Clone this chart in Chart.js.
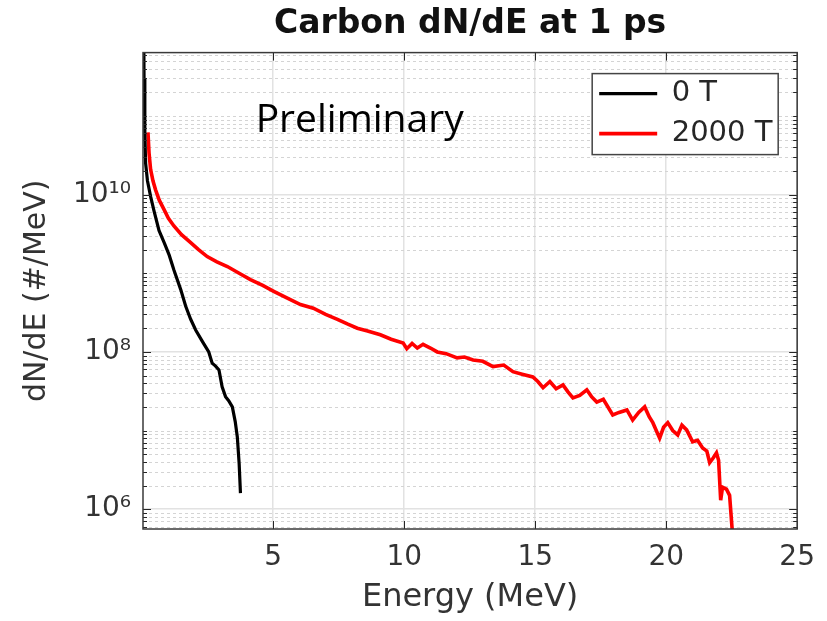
<!DOCTYPE html>
<html>
<head>
<meta charset="utf-8">
<script src="https://cdn.jsdelivr.net/npm/chart.js@4.4.1/dist/chart.umd.min.js"></script>
<style>
  html, body { margin: 0; padding: 0; background: #ffffff; }
  canvas { display: block; }
</style>
</head>
<body>
<canvas id="c" width="827" height="621"></canvas>
<script>
// ---------------- data ----------------
const chartTitle = 'Carbon dN/dE at 1 ps';
const xAxisTitle = 'Energy (MeV)';
const yAxisTitle = 'dN/dE (#/MeV)';
const seriesNames = ['0 T', '2000 T'];
const xTickValues = [5, 10, 15, 20, 25];
const xTickLabels = ['5', '10', '15', '20', '25'];
const yTickValues = [1e6, 1e8, 1e10];
const yTickLabels = ['10\u2076', '10\u2078', '10\u00B9\u2070'];
const xRange = [0.03, 25];
const yRange = [5.6e5, 6.4e11];

const energy0T = [0.05, 0.07, 0.10, 0.13, 0.20, 0.32, 0.45, 0.64, 0.85, 1.03, 1.21, 1.47, 1.66, 1.85,
  2.04, 2.30, 2.54, 2.67, 2.80, 2.93, 3.05, 3.18, 3.30, 3.44, 3.55, 3.63, 3.70, 3.75];
const dnde0T = [3e12, 3e11, 6e10, 2.5e10, 1.5e10, 9.5e9, 6.2e9, 3.5e9, 2.4e9, 1.7e9, 1.1e9, 6.2e8, 3.8e8, 2.6e8,
  1.9e8, 1.35e8, 1.0e8, 7.2e7, 6.6e7, 5.9e7, 3.6e7, 2.7e7, 2.4e7, 2.0e7, 1.3e7, 8.3e6, 3.8e6, 1.6e6];

const energy2000T = [0.22, 0.26, 0.32, 0.41, 0.51, 0.65, 0.83, 1.00, 1.21, 1.50, 1.85, 2.15, 2.48, 2.85,
  3.25, 3.70, 4.13, 4.60, 5.02, 5.50, 6.04, 6.53, 7.00, 7.45, 7.85, 8.21, 8.60, 9.09, 9.50, 9.96,
  10.10, 10.30, 10.50, 10.72, 11.00, 11.26, 11.60, 12.02, 12.30, 12.63, 13.00, 13.39, 13.80, 14.15,
  14.50, 14.91, 15.10, 15.30, 15.56, 15.80, 16.06, 16.25, 16.44, 16.70, 16.97, 17.15, 17.35, 17.60,
  17.96, 18.20, 18.50, 18.72, 18.95, 19.18, 19.35, 19.49, 19.75, 19.90, 20.06, 20.25, 20.44, 20.60,
  20.78, 21.01, 21.20, 21.39, 21.55, 21.66, 21.80, 21.92, 22.00, 22.08, 22.15, 22.30, 22.42, 22.55, 22.60];
const dnde2000T = [6.2e10, 3.4e10, 2.1e10, 1.5e10, 1.15e10, 8.5e9, 6.5e9, 5.0e9, 4.0e9, 3.1e9, 2.45e9, 2.0e9, 1.63e9, 1.4e9,
  1.22e9, 1.0e9, 8.3e8, 7.0e8, 5.9e8, 4.9e8, 4.0e8, 3.6e8, 3.0e8, 2.6e8, 2.25e8, 2.0e8, 1.85e8, 1.65e8, 1.45e8, 1.3e8,
  1.1e8, 1.28e8, 1.12e8, 1.25e8, 1.12e8, 1.0e8, 9.5e7, 8.4e7, 8.6e7, 7.9e7, 7.6e7, 6.5e7, 6.8e7, 5.6e7,
  5.2e7, 4.8e7, 4.2e7, 3.5e7, 4.2e7, 3.4e7, 3.8e7, 3.1e7, 2.6e7, 2.8e7, 3.3e7, 2.7e7, 2.3e7, 2.5e7,
  1.58e7, 1.7e7, 1.83e7, 1.36e7, 1.7e7, 2.0e7, 1.5e7, 1.26e7, 8.0e6, 1.1e7, 1.26e7, 1.0e7, 8.8e6, 1.17e7,
  1.02e7, 7.2e6, 7.5e6, 6.0e6, 5.5e6, 3.9e6, 4.5e6, 5.2e6, 4.2e6, 1.3e6, 1.9e6, 1.8e6, 1.5e6, 4e5, 2e5];

const annotationText = 'Preliminary';
const annotationAt = [8.3, 6.2e10];

// ---------------- styling ----------------
const FONT = '"DejaVu Sans", sans-serif';
const TEXT = '#333333';

const framePlugin = {
  id: 'matlabFrame',
  beforeLayout(chart) {
    const lg = chart.legend;
    if (lg && !lg._zPatched) {
      lg._layers = () => [{ z: 1, draw: (area) => lg.draw(area) }];
      lg._zPatched = true;
    }
  },
  afterLayout(chart) {
    const lg = chart.legend, ca = chart.chartArea;
    if (!lg) return;
    lg.left = ca.right - 209;
    lg.top = ca.top + 15.5;
    lg.width = 195; lg.height = 100;
    lg.right = lg.left + lg.width;
    lg.bottom = lg.top + lg.height;
  },
  beforeDatasetsDraw(chart) {
    const { ctx, chartArea: ca, scales: { y } } = chart;
    ctx.save();
    ctx.beginPath(); ctx.rect(ca.left, ca.top, ca.width, ca.height); ctx.clip();
    ctx.setLineDash([3, 3]);
    ctx.strokeStyle = '#d4d4d4';
    ctx.lineWidth = 1;
    const n0 = Math.floor(Math.log10(y.min)), n1 = Math.ceil(Math.log10(y.max));
    for (let n = n0; n <= n1; n++) {
      for (let k = 1; k <= 9; k++) {
        const v = k * Math.pow(10, n);
        if (v <= y.min || v >= y.max || yTickValues.includes(v)) continue;
        const py = Math.round(y.getPixelForValue(v)) + 0.5;
        ctx.beginPath(); ctx.moveTo(ca.left, py); ctx.lineTo(ca.right, py); ctx.stroke();
      }
    }
    ctx.restore();
  },
  afterDatasetsDraw(chart) {
    const { ctx, chartArea: ca, scales: { x, y } } = chart;
    ctx.save();
    ctx.setLineDash([]);
    ctx.strokeStyle = '#262626';
    ctx.lineWidth = 1;
    const n0 = Math.floor(Math.log10(y.min)), n1 = Math.ceil(Math.log10(y.max));
    for (let n = n0; n <= n1; n++) {
      for (let k = 1; k <= 9; k++) {
        const v = k * Math.pow(10, n);
        if (v <= y.min || v >= y.max) continue;
        const len = yTickValues.includes(v) ? 8 : 4;
        const py = Math.round(y.getPixelForValue(v)) + 0.5;
        ctx.beginPath();
        ctx.moveTo(ca.left, py); ctx.lineTo(ca.left + len, py);
        ctx.moveTo(ca.right, py); ctx.lineTo(ca.right - len, py);
        ctx.stroke();
      }
    }
    xTickValues.forEach(v => {
      const px = Math.round(x.getPixelForValue(v)) + 0.5;
      ctx.beginPath();
      ctx.moveTo(px, ca.bottom); ctx.lineTo(px, ca.bottom - 8);
      ctx.moveTo(px, ca.top); ctx.lineTo(px, ca.top + 8);
      ctx.stroke();
    });
    ctx.strokeStyle = '#3a3a3a';
    ctx.lineWidth = 1.5;
    ctx.strokeRect(ca.left, ca.top, ca.width, ca.height);
    const lg = chart.legend;
    if (lg) {
      const bx = lg.left + 4, by = lg.top + 5.5, bw = 186, bh = 81;
      ctx.fillStyle = '#ffffff';
      ctx.fillRect(bx, by, bw, bh);
      ctx.strokeStyle = '#444444';
      ctx.lineWidth = 1.5;
      ctx.strokeRect(bx, by, bw, bh);
    }
    ctx.restore();
  },
  afterDraw(chart) {
    const { ctx, scales: { x, y } } = chart;
    ctx.save();
    ctx.font = '39px "Open Sans", "Noto Sans", sans-serif';
    ctx.fillStyle = '#000000';
    ctx.textAlign = 'center';
    ctx.textBaseline = 'alphabetic';
    ctx.fillText(annotationText, x.getPixelForValue(annotationAt[0]), y.getPixelForValue(annotationAt[1]));
    ctx.restore();
  }
};

const toPoints = (xs, ys) => xs.map((e, i) => ({ x: e, y: ys[i] }));

new Chart(document.getElementById('c'), {
  type: 'line',
  data: {
    datasets: [
      {
        label: seriesNames[0],
        data: toPoints(energy0T, dnde0T),
        borderColor: '#000000',
        backgroundColor: '#000000',
        borderWidth: 3.2,
        pointRadius: 0,
        pointStyle: 'line',
        tension: 0,
        fill: false
      },
      {
        label: seriesNames[1],
        data: toPoints(energy2000T, dnde2000T),
        borderColor: '#ff0000',
        backgroundColor: '#ff0000',
        borderWidth: 3.6,
        pointRadius: 0,
        pointStyle: 'line',
        tension: 0,
        fill: false
      }
    ]
  },
  options: {
    responsive: false,
    animation: false,
    devicePixelRatio: 1,
    layout: { padding: { left: 0, right: 27, top: 0, bottom: 0 } },
    plugins: {
      title: {
        display: true,
        text: chartTitle,
        fullSize: false,
        color: '#111111',
        font: { family: FONT, size: 33, weight: 'bold' },
        padding: { top: 5, bottom: 8 }
      },
      legend: {
        display: true,
        position: 'chartArea',
        align: 'start',
        labels: {
          usePointStyle: true,
          pointStyle: 'line',
          pointStyleWidth: 58,
          color: '#262626',
          font: { family: FONT, size: 29 },
          padding: 11
        }
      },
      tooltip: { enabled: false }
    },
    scales: {
      x: {
        type: 'linear',
        min: xRange[0],
        max: xRange[1],
        afterBuildTicks: (s) => { s.ticks = xTickValues.map(v => ({ value: v })); },
        afterFit: (s) => { s.height = 92; },
        ticks: {
          callback: (v) => xTickLabels[xTickValues.indexOf(v)],
          color: TEXT,
          font: { family: FONT, size: 28 },
          padding: 12,
          maxRotation: 0,
          autoSkip: false
        },
        grid: { color: '#e2e2e2', lineWidth: 1.5, drawTicks: false },
        border: { display: false },
        title: {
          display: true,
          text: xAxisTitle,
          color: TEXT,
          font: { family: FONT, size: 32 },
          padding: { top: 0, bottom: 4 }
        }
      },
      y: {
        type: 'logarithmic',
        min: yRange[0],
        max: yRange[1],
        afterBuildTicks: (s) => { s.ticks = yTickValues.map(v => ({ value: v })); },
        afterFit: (s) => { s.width = 143; },
        ticks: {
          callback: (v) => yTickLabels[yTickValues.indexOf(v)],
          color: TEXT,
          font: { family: FONT, size: 28 },
          padding: 12
        },
        grid: { color: '#e2e2e2', lineWidth: 1.5, drawTicks: false },
        border: { display: false },
        title: {
          display: true,
          text: yAxisTitle,
          color: TEXT,
          font: { family: FONT, size: 30 },
          padding: { top: 19, bottom: 0 }
        }
      }
    }
  },
  plugins: [framePlugin]
});
</script>
</body>
</html>
